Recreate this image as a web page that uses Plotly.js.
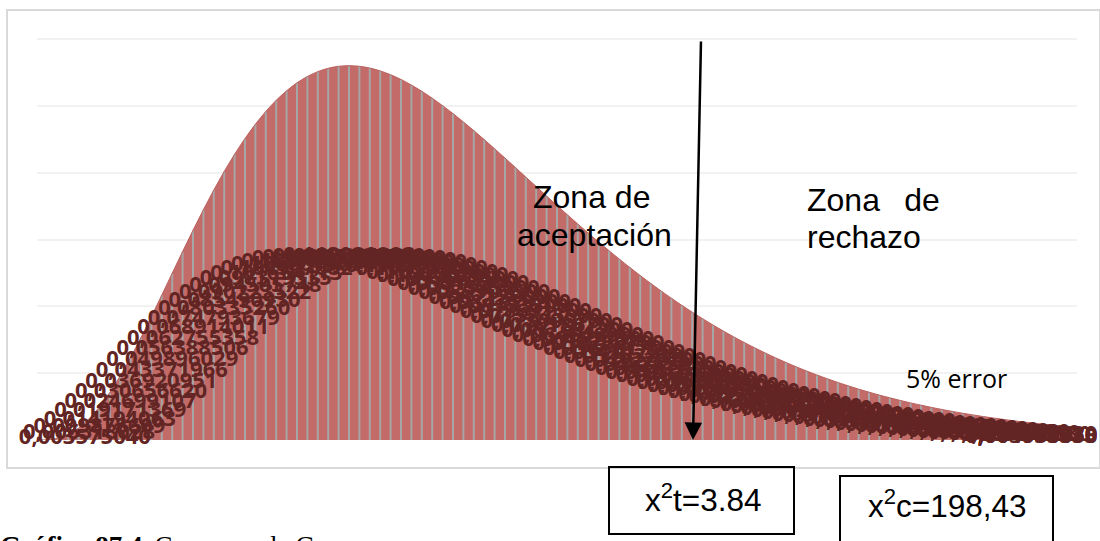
<!DOCTYPE html>
<html>
<head>
<meta charset="utf-8">
<script src="https://cdn.plot.ly/plotly-3.0.1.min.js"></script>
<style>html,body{margin:0;padding:0;background:#fff;overflow:hidden}#c{width:1100px;height:541px}</style>
</head>
<body>
<div id="c"></div>
<script>
const densityValues = [
0,0.0000754031,0.000545821,0.001666841,0.003575040,0.006318028,0.009878609,0.014194063,0.019171369,0.024699107,
0.030656620,0.036920951,0.043371966,0.049896029,0.056388506,0.062755358,0.068914011,0.074793679,0.080335260,0.085490930,
0.090223522,0.094505748,0.098319335,0.101654113,0.104507082,0.106881509,0.108786033,0.110233842,0.111241875,0.111830108,
0.112020903,0.111838,0.111307,0.110457,0.109308,0.107893,0.106237,0.104362,0.102295,0.100062,
0.0976835,0.0951850,0.0925850,0.0899025,0.0871500,0.0843592,0.0815350,0.0786917,0.0758450,0.0730067,
0.0701867,0.0673942,0.0646400,0.0619275,0.0592667,0.0566617,0.0541175,0.0516383,0.0492267,0.0468850,
0.0446183,0.0424242,0.0403050,0.0382633,0.0362983,0.0344058,0.0325925,0.0308508,0.0291842,0.0275892,
0.0260642,0.0246092,0.0232217,0.0219000,0.0206408,0.0194442,0.0183075,0.0172275,0.0162033,0.0152325,
0.0143133,0.0134425,0.0126192,0.0118417,0.0111067,0.0104133,0.00975833,0.00914167,0.00856000,0.00801250,
0.00749750,0.00701250,0.00655667,0.00612833,0.00572583,0.00534833,0.00499333,0.00466083,0.00434917,0.00405667,
0.003783333];
const pointIndex = densityValues.map((_, i) => i);
const fmt = v => v === 0 ? '0' : v < 0.0001 ? '7,54031E-05' : v.toFixed(9).replace('.', ',');
const dataLabels = densityValues.map(fmt);

const P = {l:37, r:1077, t:37, b:440};
const px = x => (x - P.l) / (P.r - P.l);
const py = y => (P.b - y) / (P.b - P.t);
const rect = (x0,y0,x1,y1,color,w) => ({type:'rect',xref:'paper',yref:'paper',layer:'above',
  x0:px(x0),x1:px(x1),y0:py(y0),y1:py(y1),line:{color:color,width:w},fillcolor:'rgba(0,0,0,0)'});
const note = (x,y,text,size,fam,extra) => Object.assign({xref:'paper',yref:'paper',x:px(x),y:py(y),text:text,
  showarrow:false,xanchor:'left',yanchor:'middle',align:'left',
  font:{family:fam,size:size,color:'#000'}}, extra||{});
const SANS = '"Liberation Sans",Arial,sans-serif';

const traces = [
  {type:'scatter',mode:'lines',x:pointIndex,y:densityValues,fill:'tozeroy',fillcolor:'#c26b68',
   line:{color:'#bb625f',width:1,shape:'spline'},hoverinfo:'skip',
   error_y:{type:'percent',symmetric:false,value:0,valueminus:100,color:'#a6a6a6',thickness:2,width:0}},
  {type:'scatter',mode:'text',x:pointIndex.map(i => Math.min(95.6, Math.max(i, 4.6))),
   y:densityValues.map(v => v/2 - 0.0012),text:dataLabels,textposition:'middle center',cliponaxis:false,
   textfont:{family:'"Open Sans",sans-serif',size:22,weight:700,color:'#632523'},hoverinfo:'skip'}
];

const layout = {
  width:1100,height:541,showlegend:false,paper_bgcolor:'#fff',plot_bgcolor:'#fff',
  margin:{l:P.l,r:1100-P.r,t:P.t,b:541-P.b,pad:0},
  xaxis:{range:[0,100],showgrid:false,zeroline:false,showticklabels:false,ticks:'',showline:false},
  yaxis:{range:[0,0.1206],dtick:0.02,gridcolor:'#f2f2f2',gridwidth:2,zeroline:false,showticklabels:false,ticks:'',showline:false},
  shapes:[
    rect(7,10,1100,468,'#d9d9d9',2),
    rect(609,467,794,534,'#000',2),
    rect(840,476,1053,560,'#000',2)
  ],
  annotations:[
    note(531,197,'Zona de',32,SANS),
    note(515,235,'aceptación',32,SANS),
    note(805,200,'Zona\u00A0\u00A0\u2009de',32,SANS),
    note(805,237,'rechazo',32,SANS),
    note(904,378,'5% error',25,'"Open Sans",sans-serif'),
    note(643,498,'x<sup>2</sup>t=3.84',31.5,SANS),
    note(866,504,'x<sup>2</sup>c=198,43',31.5,SANS),
    note(-2,529,'<b>Gráfico 87.4</b>\u2009 Campana de Gauss',27,'"Liberation Serif",serif',{yanchor:'top'}),
    {xref:'paper',yref:'paper',x:px(693),y:py(440),text:'',showarrow:true,axref:'pixel',ayref:'pixel',
     ax:8,ay:-400,arrowhead:2,arrowsize:1.4,arrowwidth:2.5,arrowcolor:'#000'}
  ]
};
Plotly.newPlot('c',traces,layout,{displayModeBar:false,staticPlot:true});
</script>
</body>
</html>
